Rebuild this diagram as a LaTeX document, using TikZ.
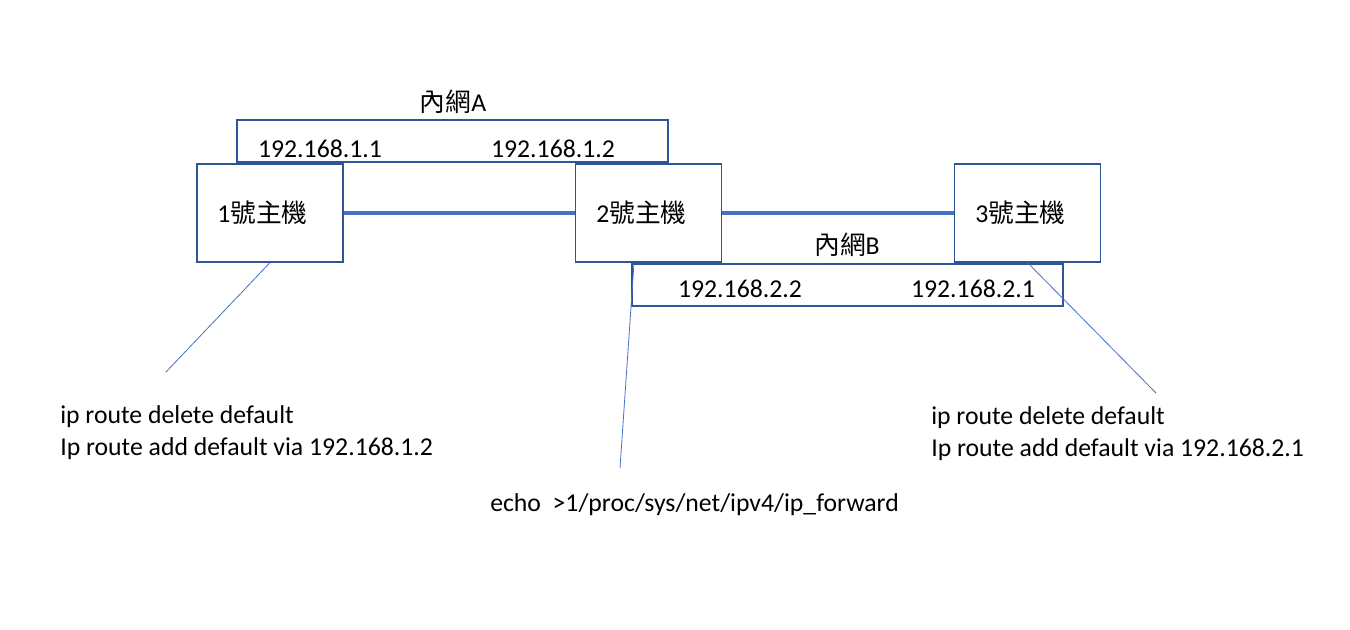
\documentclass[tikz,border=0pt]{standalone}
\usepackage{fontspec}
\setmainfont{Carlito}
\newfontfamily\cjk{Noto Sans CJK TC}
\usepackage{tikz}
\usetikzlibrary{positioning}

\definecolor{boxblue}{HTML}{2F5597}
\definecolor{lineblue}{HTML}{4472C4}

\tikzset{
  hostbox/.style={draw=boxblue, line width=0.9pt, minimum width=109.5pt, minimum height=73.5pt, inner sep=0pt},
  netbox/.style={draw=boxblue, line width=0.9pt, minimum width=323.25pt, minimum height=31.5pt, inner sep=0pt},
  link/.style={draw=lineblue, line width=2.6pt},
  callout/.style={draw=lineblue, line width=0.6pt},
  txt/.style={font=\fontsize{19.3}{24}\selectfont, inner sep=0pt},
  cmd/.style={txt, anchor=west, align=left}
}

\begin{document}
\begin{tikzpicture}[x=0.75pt, y=-0.75pt]
    \useasboundingbox[fill=white] (0,0) rectangle (1350,629);

    % networks
    \node[netbox] (netA) at (452.5,141) {};
    \node[netbox] (netB) at (847.5,285) {};
    \node[txt] (netAlabel) at (453,102) {{\cjk 內網}A};
    \node[txt] (netBlabel) at (847,245) {{\cjk 內網}B};
    \node[txt] (ipA1) at (320,149) {192.168.1.1};
    \node[txt] (ipA2) at (553,149) {192.168.1.2};
    \node[txt] (ipB2) at (740,289) {192.168.2.2};
    \node[txt] (ipB1) at (973,289) {192.168.2.1};

    % hosts
    \node[hostbox] (h1) at (270,213) {};
    \node[hostbox] (h2) at (648.5,213) {};
    \node[hostbox] (h3) at (1027.5,213) {};
    \node[txt, anchor=west] (h1label) at (217,213) {1{\cjk 號主機}};
    \node[txt, anchor=west] (h2label) at (596,213) {2{\cjk 號主機}};
    \node[txt, anchor=west] (h3label) at (975,213) {3{\cjk 號主機}};

    \draw[link] (h1.east) -- (h2.west);
    \draw[link] (h2.east) -- (h3.west);

    % commands
    \coordinate (c1) at (166,372);
    \coordinate (c2) at (620,468);
    \coordinate (c3) at (1156,393);
    \coordinate (h2foot) at (634,263);
    \draw[callout] (h1.south) -- (c1);
    \draw[callout] (h2foot) -- (c2);
    \draw[callout] (h3.south) -- (c3);

    \node[cmd] (cmd1) at (60,433) {ip route delete default\\Ip route add default via 192.168.1.2};
    \node[cmd] (cmd3) at (931,434) {ip route delete default\\Ip route add default via 192.168.2.1};
    \node[cmd] (cmd2) at (490,505) {echo~~>1/proc/sys/net/ipv4/ip\_forward};
\end{tikzpicture}
\end{document}
